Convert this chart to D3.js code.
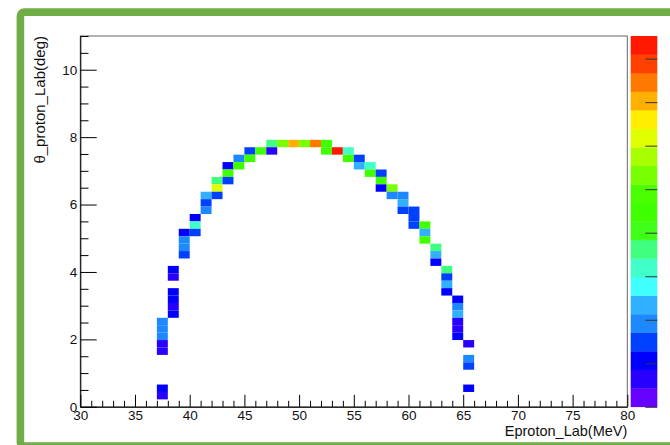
<!DOCTYPE html>
<html>
<head>
<meta charset="utf-8">
<script src="https://cdn.jsdelivr.net/npm/d3@7"></script>
<style>
  body { margin: 0; background: #fff; }
  svg { display: block; }
  text { font-family: "Liberation Sans", Arial, sans-serif; }
</style>
</head>
<body>
<script>
// bin centres (MeV, deg) and bin contents, one line per energy column
const energy = [
  37.5, 37.5, 37.5, 37.5, 37.5, 37.5, 37.5,
  38.5, 38.5, 38.5, 38.5, 38.5, 38.5,
  39.5, 39.5, 39.5, 39.5,
  40.5, 40.5, 40.5,
  41.5, 41.5, 41.5,
  42.5, 42.5, 42.5,
  43.5, 43.5, 43.5,
  44.5, 44.5,
  45.5, 45.5,
  46.5,
  47.5, 47.5,
  48.5, 49.5, 50.5, 51.5,
  52.5, 52.5,
  53.5,
  54.5, 54.5,
  55.5, 55.5,
  56.5, 56.5,
  57.5, 57.5, 57.5,
  58.5, 58.5,
  59.5, 59.5, 59.5,
  60.5, 60.5, 60.5,
  61.5, 61.5, 61.5,
  62.5, 62.5, 62.5,
  63.5, 63.5, 63.5, 63.5,
  64.5, 64.5, 64.5, 64.5, 64.5, 64.5,
  65.5, 65.5, 65.5, 65.5
];
const theta = [
  2.53, 2.31, 2.09, 1.87, 1.65, 0.55, 0.33,
  4.07, 3.85, 3.41, 3.19, 2.97, 2.75,
  5.17, 4.95, 4.73, 4.51,
  5.61, 5.39, 5.17,
  6.27, 6.05, 5.83,
  6.71, 6.49, 6.27,
  7.15, 6.93, 6.71,
  7.37, 7.15,
  7.59, 7.37,
  7.59,
  7.81, 7.59,
  7.81, 7.81, 7.81, 7.81,
  7.81, 7.59,
  7.59,
  7.59, 7.37,
  7.37, 7.15,
  7.15, 6.93,
  6.93, 6.71, 6.49,
  6.49, 6.27,
  6.27, 6.05, 5.83,
  5.83, 5.61, 5.39,
  5.39, 5.17, 4.95,
  4.73, 4.51, 4.29,
  4.07, 3.85, 3.63, 3.41,
  3.19, 2.97, 2.75, 2.53, 2.31, 2.09,
  1.87, 1.43, 1.21, 0.55
];
const counts = [
  2.9, 2.9, 2.9, 1.6, 1.6, 2.1, 1.6,
  2.1, 1.6, 2.1, 2.1, 1.6, 2.1,
  2.1, 2.9, 2.9, 2.5,
  2.1, 4.2, 2.5,
  3.3, 2.5, 2.9,
  4.6, 7.2, 2.5,
  2.1, 5.5, 2.5,
  2.9, 5.5,
  2.5, 5.5,
  5.5,
  4.6, 1.6,
  6.3, 8.0, 6.3, 8.5,
  5.5, 5.5,
  9.3,
  4.2, 5.5,
  2.5, 3.3,
  4.2, 5.5,
  2.5, 5.5, 2.1,
  6.3, 2.9,
  2.9, 3.3, 2.5,
  2.5, 2.5, 2.5,
  5.5, 3.3, 5.5,
  4.6, 3.3, 2.1,
  4.6, 2.5, 3.3, 2.1,
  2.1, 2.9, 3.3, 1.6, 1.6, 2.1,
  1.6, 2.9, 2.5, 2.1
];

const xTicks = [30, 35, 40, 45, 50, 55, 60, 65, 70, 75, 80];
const yTicks = [0, 2, 4, 6, 8, 10];
const zTicks = [1, 2, 3, 4, 5, 6, 7, 8, 9];

const palette = [
  "#6600ff", "#2800ff", "#0000ff", "#0040ff", "#1e88ff",
  "#30b0ff", "#40ffff", "#40ffc8", "#40ff80", "#40ff18",
  "#40ff00", "#4cff00", "#78ff00", "#a8ff00", "#e0ff00",
  "#ffee00", "#ffb000", "#ff7800", "#ff4000", "#ff1800"
];

const binW = 1, binH = 0.22;

const svg = d3.select("body").append("svg")
  .attr("width", 670)
  .attr("height", 445);

const x = d3.scaleLinear().domain([30, 80]).range([80.3, 627.3]);
const y = d3.scaleLinear().domain([0, 11]).range([406.8, 36]);
const z = d3.scaleLinear().domain([1, 9.52]).range([406.8, 36]);
const color = d3.scaleQuantize().domain([1, 9.52]).range(palette);

// green slide border
svg.append("rect")
  .attr("x", 20.4).attr("y", 12.1)
  .attr("width", 720).attr("height", 434)
  .attr("rx", 4)
  .attr("fill", "none")
  .attr("stroke", "#70ad47")
  .attr("stroke-width", 7.6);

// cells
const cells = energy.map((e, i) => ({ e: e, t: theta[i], c: counts[i] }));
svg.append("g").selectAll("rect")
  .data(cells)
  .join("rect")
  .attr("x", d => x(d.e - binW / 2))
  .attr("y", d => y(d.t + binH / 2))
  .attr("width", d => x(d.e + binW / 2) - x(d.e - binW / 2))
  .attr("height", d => y(d.t - binH / 2) - y(d.t + binH / 2))
  .attr("fill", d => color(d.c));

// frame
svg.append("rect")
  .attr("x", x(30)).attr("y", y(11))
  .attr("width", x(80) - x(30)).attr("height", y(0) - y(11))
  .attr("fill", "none")
  .attr("stroke", "#666")
  .attr("stroke-width", 1);

// x axis
const xMinor = d3.range(30, 81, 1).filter(v => v % 5 !== 0);
svg.append("g")
  .attr("transform", `translate(0,${y(0)})`)
  .call(d3.axisBottom(x).tickValues(xMinor).tickSize(-6).tickSizeOuter(0).tickFormat(""))
  .call(g => g.select(".domain").remove());
const gx = svg.append("g")
  .attr("transform", `translate(0,${y(0)})`)
  .call(d3.axisBottom(x).tickValues(xTicks).tickSize(-12).tickSizeOuter(0).tickPadding(3.5));
gx.select(".domain").attr("stroke", "#000");
gx.selectAll("text").attr("font-size", 13.5).attr("fill", "#111");

// y axis
const yMinor = d3.range(0, 11.01, 0.5).filter(v => v % 2 !== 0);
svg.append("g")
  .attr("transform", `translate(${x(30)},0)`)
  .call(d3.axisLeft(y).tickValues(yMinor).tickSize(-8.2).tickSizeOuter(0).tickFormat(""))
  .call(g => g.select(".domain").remove());
const gy = svg.append("g")
  .attr("transform", `translate(${x(30)},0)`)
  .call(d3.axisLeft(y).tickValues(yTicks).tickSize(-16.4).tickSizeOuter(0).tickPadding(3));
gy.select(".domain").attr("stroke", "#000");
gy.selectAll("text").attr("font-size", 13.5).attr("fill", "#111");

// colour palette
const pal = svg.append("g");
pal.selectAll("rect")
  .data(palette)
  .join("rect")
  .attr("x", 630.7)
  .attr("width", 26.6)
  .attr("y", (c, i) => z(1 + (i + 1) * 8.52 / 20))
  .attr("height", 370.8 / 20 + 0.3)
  .attr("fill", c => c);
svg.append("g")
  .attr("transform", "translate(657.3,0)")
  .call(d3.axisRight(z).tickValues(zTicks).tickSize(-12).tickSizeOuter(0).tickFormat(""))
  .call(g => g.select(".domain").remove())
  .call(g => g.selectAll("line").attr("stroke", "#333"));

// axis titles
svg.append("text")
  .attr("x", x(80)).attr("y", 436)
  .attr("text-anchor", "end")
  .attr("font-size", 14.5)
  .attr("fill", "#111")
  .text("Eproton_Lab(MeV)");

svg.append("text")
  .attr("transform", "translate(45,36) rotate(-90)")
  .attr("text-anchor", "end")
  .attr("font-size", 15)
  .attr("fill", "#111")
  .text("θ_proton_Lab(deg)");
</script>
</body>
</html>
